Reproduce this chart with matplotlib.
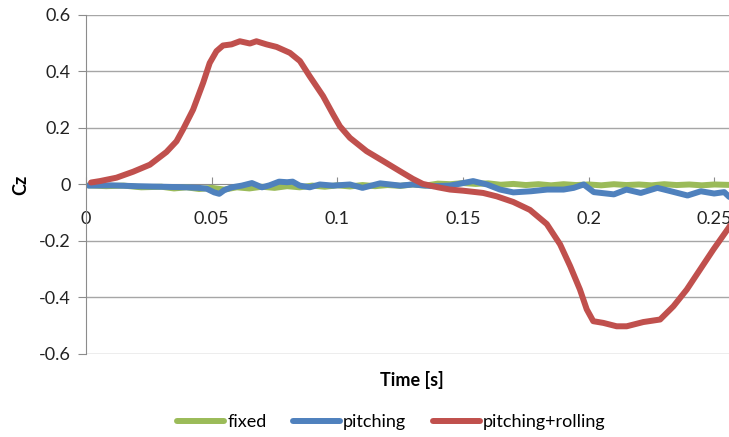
import numpy as np
import matplotlib
matplotlib.use('Agg')
import matplotlib.pyplot as plt

plt.rcParams['font.family'] = ['Lato', 'DejaVu Sans']

# ── Data ──────────────────────────────────────────────────────────────────
t_fixed = [0.001, 0.008, 0.015, 0.022, 0.030, 0.035, 0.040, 0.045, 0.050, 0.055,
           0.060, 0.065, 0.070, 0.075, 0.080, 0.085, 0.090, 0.095, 0.100, 0.105,
           0.110, 0.115, 0.120, 0.125, 0.130, 0.135, 0.140, 0.145, 0.150, 0.155,
           0.160, 0.165, 0.170, 0.175, 0.180, 0.185, 0.190, 0.195, 0.200, 0.205,
           0.210, 0.215, 0.220, 0.225, 0.230, 0.235, 0.240, 0.245, 0.250, 0.258]
cz_fixed = [-0.003, -0.006, -0.004, -0.010, -0.008, -0.014, -0.010, -0.016, -0.012, -0.018,
            -0.010, -0.014, -0.008, -0.012, -0.006, -0.010, -0.004, -0.008, -0.003, -0.007,
            -0.002, -0.006, -0.002, -0.005, 0.000, -0.004, 0.003, 0.001, 0.005, 0.002,
            0.004, -0.001, 0.002, -0.002, 0.001, -0.003, 0.001, -0.002, 0.000, -0.003,
            0.001, -0.002, 0.000, -0.003, 0.001, -0.002, 0.000, -0.003, 0.000, -0.002]

t_pitch = [0.001, 0.010, 0.020, 0.030, 0.040, 0.045, 0.048, 0.051, 0.053, 0.055,
           0.058, 0.062, 0.066, 0.070, 0.073, 0.0768, 0.080, 0.0822, 0.085, 0.089,
           0.093, 0.0983, 0.105, 0.110, 0.117, 0.125, 0.130, 0.138, 0.1448, 0.154,
           0.1595, 0.1647, 0.170, 0.177, 0.1835, 0.190, 0.194, 0.198, 0.202, 0.210,
           0.215, 0.2207, 0.2273, 0.2327, 0.2393, 0.2446, 0.2499, 0.2539, 0.2559]
cz_pitch = [-0.004, -0.003, -0.006, -0.008, -0.010, -0.012, -0.015, -0.028, -0.033, -0.020,
            -0.010, -0.004, 0.005, -0.010, -0.003, 0.010, 0.008, 0.010, -0.004, -0.010,
            0.000, -0.004, 0.000, -0.012, 0.004, -0.004, 0.000, -0.006, -0.004, 0.012,
            0.000, -0.018, -0.028, -0.024, -0.018, -0.018, -0.012, 0.000, -0.027, -0.035,
            -0.018, -0.030, -0.012, -0.024, -0.039, -0.024, -0.032, -0.027, -0.044]

t_roll = [0.002, 0.0055, 0.0121, 0.0187, 0.0254, 0.032, 0.036, 0.0386, 0.0426, 0.0466,
          0.0492, 0.0519, 0.0545, 0.0579, 0.0612, 0.0652, 0.0678, 0.0718, 0.0758, 0.0811,
          0.0851, 0.089, 0.0943, 0.0983, 0.101, 0.105, 0.1116, 0.1182, 0.1249, 0.130,
          0.134, 0.140, 0.1448, 0.150, 0.158, 0.1634, 0.170, 0.1766, 0.1833, 0.1886,
          0.1926, 0.1965, 0.1992, 0.2018, 0.2058, 0.2111, 0.2151, 0.2217, 0.2284, 0.2337,
          0.239, 0.2443, 0.2496, 0.2557, 0.258]
cz_roll = [0.007, 0.012, 0.024, 0.045, 0.070, 0.115, 0.153, 0.195, 0.265, 0.360,
           0.430, 0.472, 0.492, 0.496, 0.507, 0.499, 0.507, 0.496, 0.487, 0.466,
           0.437, 0.383, 0.313, 0.248, 0.206, 0.165, 0.118, 0.083, 0.047, 0.020,
           0.002, -0.010, -0.018, -0.022, -0.030, -0.042, -0.062, -0.090, -0.140, -0.212,
           -0.289, -0.372, -0.442, -0.484, -0.490, -0.502, -0.502, -0.487, -0.478, -0.431,
           -0.372, -0.301, -0.230, -0.153, -0.120]

series = [('fixed', t_fixed, cz_fixed, '#9BBB59'),
          ('pitching', t_pitch, cz_pitch, '#4F81BD'),
          ('pitching+rolling', t_roll, cz_roll, '#C0504D')]

yticks = [-0.6, -0.4, -0.2, 0, 0.2, 0.4, 0.6]
xticks = [0, 0.05, 0.1, 0.15, 0.2, 0.25]
xtick_labels = ['0', '0.05', '0.1', '0.15', '0.2', '0.25']

# ── Figure ────────────────────────────────────────────────────────────────
fig = plt.figure(figsize=(7.29, 4.37), dpi=100, facecolor='white')
ax = fig.add_axes([0.118, 0.19, 0.882, 0.7757])

for name, t, v, c in series:
    ax.plot(t, v, color=c, lw=4.3, label=name, solid_capstyle='round',
            solid_joinstyle='round')

ax.set_xlim(0, 0.2558)
ax.set_ylim(-0.6, 0.6)
ax.set_yticks(yticks)
ax.set_yticklabels(['-0.6', '-0.4', '-0.2', '0', '0.2', '0.4', '0.6'])
ax.set_xticks(xticks)
ax.set_xticklabels(xtick_labels)

grey = '#8C8C8C'
for y in yticks:
    if y != 0:
        ax.axhline(y, color='#A6A6A6', lw=1.0, zorder=0)

for s in ['top', 'right']:
    ax.spines[s].set_visible(False)
ax.spines['bottom'].set_position(('data', 0))
ax.spines['bottom'].set_color(grey)
ax.spines['left'].set_color(grey)
ax.spines['bottom'].set_zorder(0.5)

fs = 13
ax.tick_params(axis='y', direction='out', length=6, color=grey,
               labelsize=fs, pad=5, labelcolor='#222222')
ax.tick_params(axis='x', direction='in', length=5, color=grey,
               labelsize=fs, pad=19, labelcolor='#222222')

fig.text(0.028, 0.577, 'Cz', rotation=90, ha='center', va='center',
         fontsize=fs, fontweight='bold')
fig.text(0.565, 0.13, 'Time [s]', ha='center', va='center',
         fontsize=fs, fontweight='bold')

fig.legend(loc='center', bbox_to_anchor=(0.537, 0.034), ncol=3,
           frameon=False, fontsize=fs, handlelength=2.6,
           handletextpad=0.15, columnspacing=1.5)

plt.savefig('out.png', dpi=100, facecolor='white')
